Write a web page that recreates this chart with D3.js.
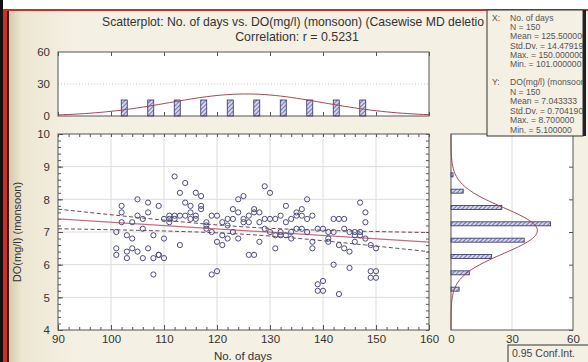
<!DOCTYPE html>
<html>
<head>
<meta charset="utf-8">
<script src="https://cdn.jsdelivr.net/npm/d3@7"></script>
<style>
  body { margin: 0; background: #fff; }
  svg text { font-family: "Liberation Sans", Arial, sans-serif; }
</style>
</head>
<body>
<svg id="chart" width="588" height="362"></svg>
<script>
// observations: three DO readings per day
var days = [101, 102, 103, 104, 105, 106, 107, 108, 109, 110,
            111, 112, 113, 114, 115, 116, 117, 118, 119, 120,
            121, 122, 123, 124, 125, 126, 127, 128, 129, 130,
            131, 132, 133, 134, 135, 136, 137, 138, 139, 140,
            141, 142, 143, 144, 145, 146, 147, 148, 149, 150];
var doByDay = [
  [7.0, 6.5, 6.3], [7.8, 7.6, 7.3], [6.9, 6.4, 6.2], [7.3, 6.8, 6.5], [8.0, 7.5, 6.4],
  [7.4, 7.1, 6.2], [7.9, 7.6, 6.5], [6.9, 6.2, 5.7], [7.8, 6.3, 6.3], [7.4, 6.8, 6.2],
  [7.5, 7.4, 7.3], [8.7, 7.5, 7.4], [8.2, 7.5, 6.6], [8.5, 7.9, 7.5], [7.8, 7.6, 7.4],
  [8.2, 7.5, 7.4], [8.1, 7.8, 7.7], [7.3, 7.2, 7.1], [7.5, 7.0, 5.7], [7.5, 6.7, 5.8],
  [7.3, 6.9, 6.6], [7.4, 7.2, 6.8], [7.7, 7.4, 7.0], [8.0, 7.6, 6.8], [8.1, 7.4, 7.3],
  [7.5, 7.3, 6.3], [7.7, 7.6, 6.3], [7.6, 7.3, 6.7], [8.4, 7.4, 7.1], [8.2, 7.4, 7.0],
  [7.4, 6.9, 6.5], [7.5, 7.0, 6.9], [7.8, 7.3, 6.9], [7.4, 7.0, 6.8], [7.6, 7.5, 7.1],
  [7.7, 7.5, 7.1], [8.0, 7.4, 7.0], [7.5, 6.7, 6.5], [7.1, 5.4, 5.2], [7.1, 5.5, 5.2],
  [7.0, 6.8, 6.7], [7.4, 7.0, 6.0], [7.4, 6.6, 5.1], [7.4, 7.1, 6.5], [7.0, 6.4, 5.9],
  [7.0, 6.9, 6.7], [7.9, 7.0, 6.9], [7.6, 7.3, 6.8], [6.6, 5.8, 5.6], [6.5, 5.8, 5.6]
];

// marginal histograms
var dayBinCenters = [102.5, 107.5, 112.5, 117.5, 122.5, 127.5, 132.5, 137.5, 142.5, 147.5];
var dayBinCounts = [15, 15, 15, 15, 15, 15, 15, 15, 15, 15];
var doBinCenters = [5.25, 5.75, 6.25, 6.75, 7.25, 7.75, 8.25, 8.75];
var doBinCounts = [4, 9, 20, 36, 49, 25, 6, 1];

// fitted line and summary stats
var fitStart = [90, 7.40];
var fitEnd = [160, 6.69];
var nObs = 150;
var dayMean = 125.5, daySd = 14.4792, dayBinWidth = 5;
var doMean = 7.043333, doSd = 0.70419, doBinWidth = 0.5;
var residSd = 0.70;

var xTicks = [90, 100, 110, 120, 130, 140, 150, 160];
var yTicks = [4, 5, 6, 7, 8, 9, 10];
var countTicks = [0, 30, 60];

var statsX = ["No. of days", "N = 150", "Mean = 125.500000", "Std.Dv. = 14.479196", "Max. = 150.000000", "Min. = 101.000000"];
var statsY = ["DO(mg/l) (monsoon)", "N = 150", "Mean = 7.043333", "Std.Dv. = 0.704190", "Max. = 8.700000", "Min. = 5.100000"];

var svg = d3.select('#chart');
var ink = '#333';
var fmt = d3.format('d');

var x = d3.scaleLinear().domain([90, 160]).range([58, 429]);
var y = d3.scaleLinear().domain([4, 10]).range([330, 134]);
var topY = d3.scaleLinear().domain([0, 60]).range([116, 52]);
var rightX = d3.scaleLinear().domain([0, 60]).range([451, 573]);

function drawFrame() {
  var defs = svg.append('defs');
  var grad = defs.append('linearGradient').attr('id', 'panel');
  grad.append('stop').attr('offset', '0%').attr('stop-color', '#cdbf9c');
  grad.append('stop').attr('offset', '3%').attr('stop-color', '#ede6d2');
  grad.append('stop').attr('offset', '12%').attr('stop-color', '#f4f0e3');
  grad.append('stop').attr('offset', '100%').attr('stop-color', '#f4f0e3');

  var hatch = defs.append('pattern').attr('id', 'hatch')
    .attr('patternUnits', 'userSpaceOnUse').attr('width', 3).attr('height', 3)
    .attr('patternTransform', 'rotate(45)');
  hatch.append('rect').attr('width', 3).attr('height', 3).attr('fill', '#d4d4ee');
  hatch.append('line').attr('x1', 0).attr('y1', 0).attr('x2', 0).attr('y2', 3)
    .attr('stroke', '#3c3c78').attr('stroke-width', 1.2);

  svg.append('rect').attr('width', 588).attr('height', 362).attr('fill', '#fff');
  svg.append('rect').attr('x', 4).attr('y', 10).attr('width', 590).attr('height', 360)
    .attr('fill', 'url(#panel)');
  svg.append('rect').attr('x', 0).attr('y', 0).attr('width', 3).attr('height', 362).attr('fill', '#111');
  svg.append('rect').attr('x', 3).attr('y', 9).attr('width', 4).attr('height', 353).attr('fill', '#c8302c');
  svg.append('rect').attr('x', 7).attr('y', 11).attr('width', 2).attr('height', 351).attr('fill', '#3a1a16');
  svg.append('rect').attr('x', 3).attr('y', 9).attr('width', 585).attr('height', 2).attr('fill', '#c8302c');
}

function drawTitle() {
  // the title runs under the stats box in the original, so only this much shows
  svg.append('text')
    .attr('x', 102).attr('y', 26).attr('font-size', 12.2).attr('fill', ink)
    .text('Scatterplot: No. of days vs. DO(mg/l) (monsoon) (Casewise MD deletio');
  svg.append('text').attr('x', 297).attr('y', 41).attr('text-anchor', 'middle')
    .attr('font-size', 12.4).attr('fill', ink)
    .text('Correlation: r = 0.5231');
}

function styleAxis(g) {
  g.select('.domain').remove();
  g.selectAll('line').attr('stroke', '#555');
  g.selectAll('text').attr('font-size', 11.5).attr('fill', ink);
}

function drawMain() {
  svg.append('rect').attr('x', 58).attr('y', 134).attr('width', 371).attr('height', 196).attr('fill', '#fff');

  // grid
  svg.append('g').selectAll('line').data([100, 110, 120, 130, 140, 150]).join('line')
    .attr('x1', d => x(d)).attr('x2', d => x(d)).attr('y1', 134).attr('y2', 330)
    .attr('stroke', '#dcdcdc');
  svg.append('g').selectAll('line').data([5, 6, 7, 8, 9]).join('line')
    .attr('y1', d => y(d)).attr('y2', d => y(d)).attr('x1', 58).attr('x2', 429)
    .attr('stroke', '#dcdcdc');

  // inward tick marks on all four sides
  var minorX = d3.range(90, 161, 2), minorY = d3.range(4, 10.01, 0.2);
  [[d3.axisBottom(x), 330], [d3.axisTop(x), 134]].forEach(function (a) {
    svg.append('g').attr('transform', 'translate(0,' + a[1] + ')')
      .call(a[0].tickValues(minorX).tickSize(-3).tickFormat('')).call(styleAxis);
  });
  [[d3.axisLeft(y), 58], [d3.axisRight(y), 429]].forEach(function (a) {
    svg.append('g').attr('transform', 'translate(' + a[1] + ',0)')
      .call(a[0].tickValues(minorY).tickSize(-3).tickFormat('')).call(styleAxis);
  });

  svg.append('g').attr('transform', 'translate(0,330)')
    .call(d3.axisBottom(x).tickValues(xTicks).tickFormat(fmt).tickSize(-5).tickPadding(5)).call(styleAxis);
  svg.append('g').attr('transform', 'translate(58,0)')
    .call(d3.axisLeft(y).tickValues(yTicks).tickFormat(fmt).tickSize(-5).tickPadding(8)).call(styleAxis);

  // confidence band and fit
  var slope = (fitEnd[1] - fitStart[1]) / (fitEnd[0] - fitStart[0]);
  var sxx = (nObs - 1) * daySd * daySd;
  function fit(d) { return fitStart[1] + slope * (d - fitStart[0]); }
  function half(d) { return 1.976 * residSd * Math.sqrt(1 / nObs + (d - dayMean) * (d - dayMean) / sxx); }
  var xs = d3.range(90, 160.5, 1);
  var line = d3.line().x(d => x(d[0])).y(d => y(d[1]));
  [1, -1].forEach(function (s) {
    svg.append('path').attr('d', line(xs.map(d => [d, fit(d) + s * half(d)])))
      .attr('fill', 'none').attr('stroke', '#6a4650').attr('stroke-width', 1)
      .attr('stroke-dasharray', '4,2.5');
  });
  svg.append('path').attr('d', line([fitStart, fitEnd]))
    .attr('fill', 'none').attr('stroke', '#c07080').attr('stroke-width', 1.2);

  var pts = [];
  days.forEach(function (d, i) {
    doByDay[i].forEach(function (v) { pts.push([d, v]); });
  });
  svg.append('g').selectAll('circle').data(pts).join('circle')
    .attr('cx', d => x(d[0])).attr('cy', d => y(d[1])).attr('r', 2.6)
    .attr('fill', 'none').attr('stroke', '#4c4c7c').attr('stroke-width', 1);

  svg.append('rect').attr('x', 58).attr('y', 134).attr('width', 371).attr('height', 196)
    .attr('fill', 'none').attr('stroke', '#555');

  svg.append('text').attr('x', 243).attr('y', 360).attr('text-anchor', 'middle')
    .attr('font-size', 11.5).attr('fill', ink).text('No. of days');
  svg.append('text').attr('transform', 'translate(21,232) rotate(-90)')
    .attr('text-anchor', 'middle').attr('font-size', 11).attr('fill', ink)
    .text('DO(mg/l) (monsoon)');
}

function drawTopHist() {
  svg.append('rect').attr('x', 58).attr('y', 52).attr('width', 371).attr('height', 64).attr('fill', '#fff');
  svg.append('line').attr('x1', 58).attr('x2', 429).attr('y1', topY(30)).attr('y2', topY(30))
    .attr('stroke', '#c8c8c8').attr('stroke-dasharray', '1,2');

  svg.append('g').attr('transform', 'translate(0,116)')
    .call(d3.axisBottom(x).tickValues(xTicks).tickSize(-4).tickFormat('')).call(styleAxis);
  svg.append('g').attr('transform', 'translate(0,52)')
    .call(d3.axisTop(x).tickValues(xTicks).tickSize(-4).tickFormat('')).call(styleAxis);
  svg.append('g').attr('transform', 'translate(58,0)')
    .call(d3.axisLeft(topY).tickValues(countTicks).tickSize(0).tickPadding(8)).call(styleAxis);

  var curve = d3.range(90, 160.5, 1).map(function (d) {
    var z = (d - dayMean) / daySd;
    return [d, nObs * dayBinWidth * Math.exp(-z * z / 2) / (daySd * Math.sqrt(2 * Math.PI))];
  });
  svg.append('g').selectAll('rect').data(dayBinCenters).join('rect')
    .attr('x', d => x(d) - 3).attr('width', 6)
    .attr('y', (d, i) => topY(dayBinCounts[i])).attr('height', (d, i) => 116 - topY(dayBinCounts[i]))
    .attr('fill', 'url(#hatch)').attr('stroke', '#2e2e66').attr('stroke-width', 0.8);
  svg.append('path').attr('d', d3.line().x(d => x(d[0])).y(d => topY(d[1]))(curve))
    .attr('fill', 'none').attr('stroke', '#a04a58').attr('stroke-width', 1);

  svg.append('rect').attr('x', 58).attr('y', 52).attr('width', 371).attr('height', 64)
    .attr('fill', 'none').attr('stroke', '#555');
}

function drawRightHist() {
  svg.append('rect').attr('x', 451).attr('y', 134).attr('width', 122).attr('height', 196).attr('fill', '#fff');
  svg.append('line').attr('x1', rightX(30)).attr('x2', rightX(30)).attr('y1', 134).attr('y2', 330)
    .attr('stroke', '#dcdcdc');

  svg.append('g').attr('transform', 'translate(573,0)')
    .call(d3.axisRight(y).tickValues(yTicks).tickSize(-4).tickFormat('')).call(styleAxis);
  svg.append('g').attr('transform', 'translate(0,330)')
    .call(d3.axisBottom(rightX).tickValues(countTicks).tickSize(0).tickPadding(5)).call(styleAxis);

  svg.append('g').selectAll('rect').data(doBinCenters).join('rect')
    .attr('y', d => y(d) - 2).attr('height', 4).attr('x', 451)
    .attr('width', (d, i) => rightX(doBinCounts[i]) - 451)
    .attr('fill', 'url(#hatch)').attr('stroke', '#2e2e66').attr('stroke-width', 0.8);

  var curve = d3.range(4, 10.01, 0.05).map(function (v) {
    var z = (v - doMean) / doSd;
    return [v, nObs * doBinWidth * Math.exp(-z * z / 2) / (doSd * Math.sqrt(2 * Math.PI))];
  });
  svg.append('path').attr('d', d3.line().x(d => rightX(d[1])).y(d => y(d[0]))(curve))
    .attr('fill', 'none').attr('stroke', '#a04a58').attr('stroke-width', 1);

  svg.append('rect').attr('x', 451).attr('y', 134).attr('width', 122).attr('height', 196)
    .attr('fill', 'none').attr('stroke', '#555');
}

function drawStats() {
  svg.append('clipPath').attr('id', 'statClip')
    .append('rect').attr('x', 487).attr('y', 10).attr('width', 96).attr('height', 126);
  svg.append('rect').attr('x', 487).attr('y', 10).attr('width', 96).attr('height', 126)
    .attr('fill', '#f4f0e3').attr('stroke', '#333').attr('stroke-width', 1);
  var g = svg.append('g').attr('clip-path', 'url(#statClip)')
    .attr('font-size', 8.6).attr('fill', '#555');
  g.append('text').attr('x', 492).attr('y', 21).text('X:');
  g.append('text').attr('x', 492).attr('y', 85).text('Y:');
  g.selectAll('.sx').data(statsX).join('text')
    .attr('x', 510).attr('y', (d, i) => 21 + i * 9.2).text(d => d);
  g.selectAll('.sy').data(statsY).join('text')
    .attr('x', 510).attr('y', (d, i) => 85 + i * 9.6).text(d => d);
  svg.append('rect').attr('x', 583).attr('y', 10).attr('width', 3).attr('height', 126).attr('fill', '#222');
}

function drawLegend() {
  svg.append('rect').attr('x', 508).attr('y', 345).attr('width', 90).attr('height', 30)
    .attr('fill', '#f4f0e3').attr('stroke', '#333');
  svg.append('text').attr('x', 512).attr('y', 357).attr('font-size', 10.5).attr('fill', '#444')
    .text('0.95 Conf.Int.');
}

drawFrame();
drawTitle();
drawTopHist();
drawMain();
drawRightHist();
drawStats();
drawLegend();
</script>
</body>
</html>
